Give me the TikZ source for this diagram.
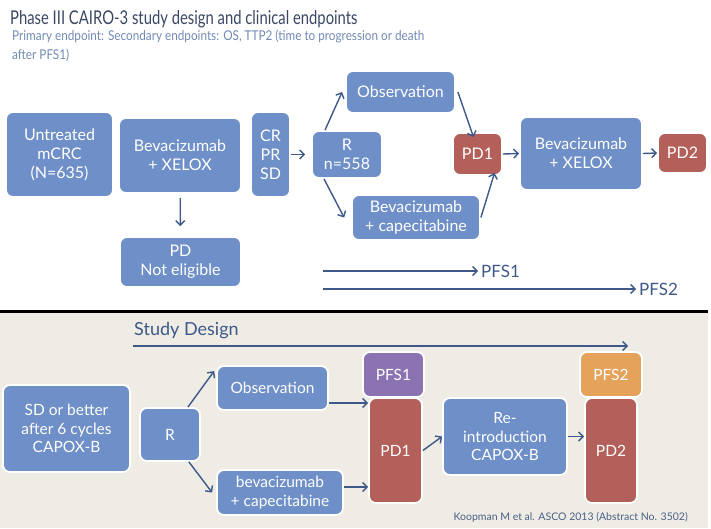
\documentclass[tikz,border=0pt]{standalone}
\usepackage{fontspec}
\setmainfont{Lato}
\newfontfamily\narrowfont[FakeStretch=0.78]{Lato}
\newfontfamily\subfont[FakeStretch=0.87]{Lato}
\usetikzlibrary{positioning, arrows.meta, shadows}

\definecolor{boxblue}{HTML}{6E8FC7}
\definecolor{boxred}{HTML}{B4605A}
\definecolor{boxpurple}{HTML}{8B73B1}
\definecolor{boxorange}{HTML}{E4A25B}
\definecolor{arrowblue}{HTML}{3D5889}
\definecolor{titlegray}{HTML}{3A4763}
\definecolor{subblue}{HTML}{7189B3}
\definecolor{paper}{HTML}{EEECE4}

\tikzset{
  box/.style={draw=white, line width=1.8pt, rounded corners=7pt, fill=boxblue,
    text=white, align=center, inner sep=0pt, font=\fontsize{16}{19}\selectfont,
    drop shadow={opacity=0.3, shadow xshift=0.6pt, shadow yshift=-0.6pt}},
  smallbox/.style={box, font=\fontsize{15.5}{18.5}\selectfont},
  redbox/.style={fill=boxred},
  arr/.style={-{Straight Barb[length=4.5pt,width=9pt]}, line width=1.4pt, draw=arrowblue},
  pfslabel/.style={anchor=west, inner sep=3pt, text=arrowblue, font=\fontsize{17}{19}\selectfont}
}

\begin{document}
\begin{tikzpicture}[x=1pt, y=-1pt]
  \useasboundingbox (0,0) rectangle (711,528);
  % lower panel
  \fill[paper] (0,311) rectangle (708,528);
  \draw[line width=3pt] (0,311) -- (708,311);

  % titles
  \node[anchor=west, inner sep=0, text=titlegray, font=\narrowfont\fontsize{19}{22}\selectfont] (title) at (10,19) {Phase III CAIRO-3 study design and clinical endpoints};
  \node[anchor=north west, inner sep=0, align=left, text=subblue, font=\subfont\fontsize{13.5}{19}\selectfont] (subtitle) at (12,30) {Primary endpoint: Secondary endpoints: OS, TTP2 (time to progression or death\\after PFS1)};

  % upper design
  \node[box, minimum width=107, minimum height=85] (untreated) at (59.5,154.5) {Untreated\\mCRC\\(N=635)};
  \node[box, minimum width=122, minimum height=75] (induct) at (180,155.5) {Bevacizumab\\+ XELOX};
  \node[box, minimum width=39, minimum height=85] (resp) at (270.5,154.5) {CR\\PR\\SD};
  \node[box, minimum width=121, minimum height=50] (noteli) at (180.5,262) {PD\\Not eligible};
  \node[box, minimum width=70, minimum height=47] (rand) at (347,154.5) {R\\n=558};
  \node[box, minimum width=109, minimum height=42] (obs) at (400.5,92) {Observation};
  \node[box, minimum width=128, minimum height=45] (maint) at (416,217.5) {Bevacizumab\\+ capecitabine};
  \node[box, redbox, minimum width=49, minimum height=42] (pdone) at (477.5,154) {PD1};
  \node[box, minimum width=122, minimum height=73] (reind) at (581,153.5) {Bevacizumab\\+ XELOX};
  \node[box, redbox, minimum width=49, minimum height=40] (pdtwo) at (682.5,153) {PD2};

  \draw[arr, shorten <=4pt, shorten >=10pt] (induct) -- (noteli);
  \draw[arr] (resp.east) -- ([xshift=-6pt]rand.west);
  \draw[arr] ([xshift=-22pt]rand.north) -- ([xshift=-3pt]obs.west);
  \draw[arr] ([xshift=2pt]obs.east) -- ([xshift=-4pt,yshift=-5pt]pdone.north);
  \draw[arr] ([xshift=-23pt]rand.south) -- ([xshift=-7pt]maint.west);
  \draw[arr] (maint.east) -- ([xshift=17pt,yshift=3pt]pdone.south);
  \draw[arr] (pdone.east) -- (reind.west);
  \draw[arr] (reind.east) -- (pdtwo.west);

  \coordinate (pfsastart) at (323,271);
  \coordinate (pfsbstart) at (323,289);
  \node[pfslabel] (pfsa) at (478,271) {PFS1};
  \node[pfslabel] (pfsb) at (636,289) {PFS2};
  \draw[arr] (pfsastart) -- (pfsa.west);
  \draw[arr] (pfsbstart) -- (pfsb.west);

  % lower design
  \node[anchor=west, inner sep=0, text=arrowblue, font=\fontsize{18}{20}\selectfont] (studylbl) at (134,331) {Study Design};
  \coordinate (studyend) at (628,346);
  \draw[arr] (133,346) -- (studyend);

  \node[smallbox, minimum width=127, minimum height=87] (sd) at (66.5,428.5) {SD or better\\after 6 cycles\\CAPOX-B};
  \node[smallbox, minimum width=60, minimum height=53] (randb) at (170,434.5) {R};
  \node[smallbox, minimum width=111, minimum height=44] (obsb) at (272.5,388) {Observation};
  \node[smallbox, minimum width=126, minimum height=45] (maintb) at (280,492.5) {bevacizumab\\+ capecitabine};
  \node[smallbox, fill=boxpurple, minimum width=61, minimum height=45] (pfsbox) at (393.5,374.5) {PFS1};
  \node[smallbox, redbox, minimum width=53, minimum height=105] (pdoneb) at (395.5,450.5) {PD1};
  \node[smallbox, minimum width=124, minimum height=77] (reintro) at (505,436.5) {Re-\\introduction\\CAPOX-B};
  \node[smallbox, fill=boxorange, minimum width=62, minimum height=45] (pfsboxb) at (611,374.5) {PFS2};
  \node[smallbox, redbox, minimum width=52, minimum height=105] (pdtwob) at (611,450.5) {PD2};

  \draw[arr] ([xshift=-13pt]randb.north east) -- ([xshift=-2pt,yshift=-6pt]obsb.north west);
  \draw[arr] ([xshift=-12pt]randb.south east) -- ([xshift=-4pt]maintb.west);
  \draw[arr] ([yshift=-15pt]obsb.east) -- ([yshift=-15pt]obsb.east -| pdoneb.west);
  \draw[arr] ([yshift=5.5pt]maintb.east) -- ([yshift=5.5pt]maintb.east -| pdoneb.west);
  \draw[arr] (pdoneb.east) -- (reintro.west);
  \draw[arr] (reintro.east) -- (reintro.east -| pdtwob.west);

  \node[anchor=east, inner sep=0, text=arrowblue!80!gray, font=\fontsize{10.5}{12}\selectfont] (cite) at (688,517) {Koopman M et al. ASCO 2013 (Abstract No. 3502)};
\end{tikzpicture}
\end{document}
